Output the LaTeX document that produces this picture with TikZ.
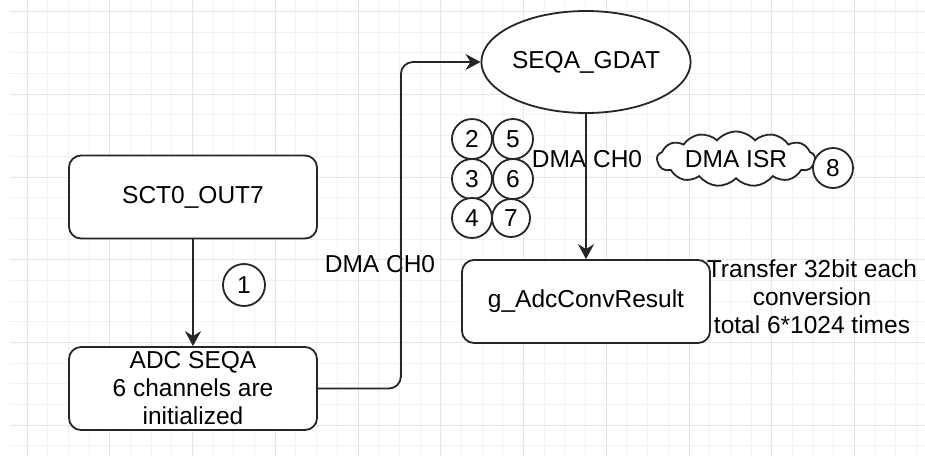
\documentclass[tikz,border=0pt]{standalone}
\usepackage{fontspec}
\setmainfont{Liberation Sans}
\usetikzlibrary{arrows.meta,shapes.geometric,shapes.symbols}
\begin{document}
\begin{tikzpicture}[x=1pt,y=-1pt,
  minorgrid/.style={draw=black!5,line width=1pt},
  majorgrid/.style={draw=black!10,line width=1pt},
  stroke/.style={draw=black!85,line width=1.8pt},
  box/.style={stroke,rounded corners=12pt,fill=white,inner sep=0pt,align=center,
    minimum width=248pt,minimum height=83pt},
  num/.style={stroke,circle,fill=white,inner sep=0pt,minimum size=40pt},
  lbl/.style={inner sep=0pt,align=center},
  conn/.style={stroke,-{Stealth[length=15pt,width=16pt,inset=5pt]}},
  every node/.style={font=\fontsize{24.5}{28}\selectfont}]
\useasboundingbox (0,0) rectangle (925,456);
\fill[white] (0,0) rectangle (925,456);
% grid
\foreach \i in {0,...,43} \draw[minorgrid] ({27+\i*20.6875},0) -- ({27+\i*20.6875},456);
\foreach \i in {0,...,21} \draw[minorgrid] (10,{11.5+\i*20.6875}) -- (925,{11.5+\i*20.6875});
\foreach \i in {0,...,10} \draw[majorgrid] ({27+\i*82.75},0) -- ({27+\i*82.75},456);
\foreach \i in {0,...,5} \draw[majorgrid] (10,{11.5+\i*82.75}) -- (925,{11.5+\i*82.75});
% nodes
\node[box] (sct) at (193,197) {SCT0\_OUT7};
\node[box] (adc) at (193,388.5) {ADC SEQA\\6 channels are\\initialized};
\node[stroke,ellipse,fill=white,inner sep=0pt,minimum width=208pt,minimum height=102pt] (gdat) at (586,62) {SEQA\_GDAT};
\node[box] (res) at (586,301.5) {g\_AdcConvResult};
\node[num,minimum size=42pt] (n1) at (244,285) {1};
\node[num] (n2) at (472,139) {2};
\node[num] (n5) at (513,139) {5};
\node[num] (n3) at (472,179) {3};
\node[num] (n6) at (513,179) {6};
\node[num] (n4) at (472,218) {4};
\node[num,minimum size=38pt] (n7) at (511,218) {7};
\node[stroke,cloud,cloud puffs=13,cloud puff arc=100,aspect=3.6,fill=white,inner sep=0pt,
  minimum width=158pt,minimum height=50pt] (isr) at (736,159) {DMA ISR};
\node[num] (n8) at (833,168) {8};
\node[lbl] (l1) at (380,264) {DMA CH0};
\node[lbl] (l2) at (587,159) {DMA CH0};
\node[lbl] (tr) at (812,297) {Transfer 32bit each\\conversion\\total 6*1024 times};
% connectors
\draw[conn] (sct.south) -- (adc.north);
\draw[conn,rounded corners=12pt] (adc.east) -- ++(83,0) |- (gdat.west);
\draw[conn] (gdat.south) -- (res.north);
\end{tikzpicture}
\end{document}
